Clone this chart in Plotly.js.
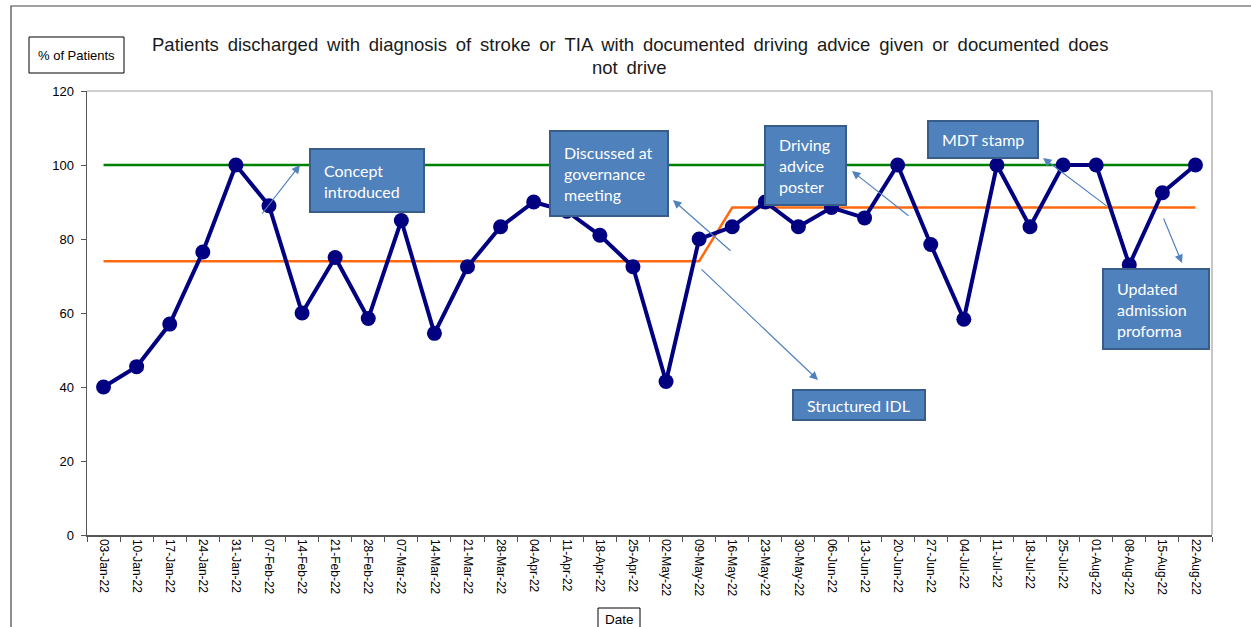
<!DOCTYPE html>
<html>
<head>
<meta charset="utf-8">
<script src="https://cdn.plot.ly/plotly-3.0.1.min.js"></script>
<style>html,body{margin:0;padding:0;background:#fff;}#chart{width:1251px;height:627px;}</style>
</head>
<body>
<div id="chart"></div>
<script>
// ---- data ----
var weeks = ["03-Jan-22","10-Jan-22","17-Jan-22","24-Jan-22","31-Jan-22","07-Feb-22","14-Feb-22","21-Feb-22","28-Feb-22",
  "07-Mar-22","14-Mar-22","21-Mar-22","28-Mar-22","04-Apr-22","11-Apr-22","18-Apr-22","25-Apr-22","02-May-22",
  "09-May-22","16-May-22","23-May-22","30-May-22","06-Jun-22","13-Jun-22","20-Jun-22","27-Jun-22","04-Jul-22",
  "11-Jul-22","18-Jul-22","25-Jul-22","01-Aug-22","08-Aug-22","15-Aug-22","22-Aug-22"];
var pctPatients = [40,45.5,57,76.5,100,89,60,75,58.5,85,54.5,72.5,83.3,90,87.5,81,72.5,41.5,
  80,83.3,90,83.3,88.5,85.7,100,78.5,58.3,100,83.3,100,100,73,92.5,100];
var target = [100,100,100,100,100,100,100,100,100,100,100,100,100,100,100,100,100,100,
  100,100,100,100,100,100,100,100,100,100,100,100,100,100,100,100];
var median = [74,74,74,74,74,74,74,74,74,74,74,74,74,74,74,74,74,74,
  74,88.5,88.5,88.5,88.5,88.5,88.5,88.5,88.5,88.5,88.5,88.5,88.5,88.5,88.5,88.5];
var yTicks = [0,20,40,60,80,100,120];
var titleLine1 = "Patients discharged with diagnosis of stroke or TIA with documented driving advice given or documented does";
var titleLine2 = "not drive";

// ---- layout helpers (pixel -> paper) ----
var L = 87, R = 1212, T = 91, B = 535;
function px(x){ return (x - L) / (R - L); }
function py(y){ return (B - y) / (B - T); }
function wide(s){ return s.split(" ").join(" \u2009"); }

var boxFill = "#4f81bd", boxLine = "#385d8a", arrowCol = "#4f81bd";
var boxFont = {family: "Lato, 'Open Sans', sans-serif", size: 16, color: "#ffffff"};
var axisFont = "'Liberation Sans', Arial, sans-serif";

var boxes = [
  {x0:310, y0:149, x1:424, y1:212, text:"Concept<br>introduced"},
  {x0:550, y0:131, x1:668, y1:216, text:"Discussed at<br>governance<br>meeting"},
  {x0:793, y0:390, x1:925, y1:420, text:"Structured IDL"},
  {x0:765, y0:126, x1:846, y1:205, text:"Driving<br>advice<br>poster"},
  {x0:928, y0:121, x1:1038, y1:158, text:"MDT stamp"},
  {x0:1103, y0:269, x1:1209, y1:349, text:"Updated<br>admission<br>proforma"}
];
var arrows = [
  {hx:300, hy:165, tx:261, ty:215},
  {hx:673, hy:200, tx:732, ty:252},
  {hx:818, hy:380, tx:700, ty:268},
  {hx:852, hy:171, tx:910, ty:217},
  {hx:1043, hy:158, tx:1108, ty:207},
  {hx:1182, hy:263, tx:1163, ty:217}
];

var shapes = [
  {type:"rect", xref:"paper", yref:"paper", x0:px(11), x1:px(1300), y0:py(6), y1:py(700), line:{color:"#444", width:1.2}},
  {type:"line", xref:"paper", yref:"paper", x0:0, x1:1, y0:1, y1:1, line:{color:"#a0a0a0", width:1.2}},
  {type:"line", xref:"paper", yref:"paper", x0:1, x1:1, y0:0, y1:1, line:{color:"#a0a0a0", width:1.2}},
  {type:"rect", xref:"paper", yref:"paper", x0:px(29), x1:px(124), y0:py(37), y1:py(73), line:{color:"#000", width:1}, fillcolor:"#fff"},
  {type:"rect", xref:"paper", yref:"paper", x0:px(598), x1:px(640), y0:py(608), y1:py(660), line:{color:"#000", width:1}, fillcolor:"#fff"}
];
var annotations = [
  {xref:"paper", yref:"paper", x:px(76.5), y:py(55.5), text:"% of Patients", showarrow:false, xanchor:"center", yanchor:"middle",
   font:{family:axisFont, size:13, color:"#000"}},
  {xref:"paper", yref:"paper", x:px(619), y:py(619.5), text:"Date", showarrow:false, xanchor:"center", yanchor:"middle",
   font:{family:axisFont, size:13.5, color:"#000"}},
  {xref:"paper", yref:"paper", x:px(630), y:py(44), text:wide(titleLine1), showarrow:false, xanchor:"center", yanchor:"middle",
   font:{family:axisFont, size:18.5, color:"#1a1a1a"}},
  {xref:"paper", yref:"paper", x:px(629), y:py(68), text:wide(titleLine2), showarrow:false, xanchor:"center", yanchor:"middle",
   font:{family:axisFont, size:18.5, color:"#1a1a1a"}}
];
arrows.forEach(function(a){
  annotations.push({xref:"paper", yref:"paper", x:px(a.hx), y:py(a.hy), ax:a.tx - a.hx, ay:a.ty - a.hy,
    axref:"pixel", ayref:"pixel", text:"", showarrow:true, arrowhead:2, arrowsize:1.4, arrowwidth:1.2,
    arrowcolor:arrowCol, standoff:0, startstandoff:0});
});
boxes.forEach(function(b){
  shapes.push({type:"rect", xref:"paper", yref:"paper", x0:px(b.x0), x1:px(b.x1), y0:py(b.y0), y1:py(b.y1),
    fillcolor:boxFill, line:{color:boxLine, width:2}, layer:"above"});
  annotations.push({xref:"paper", yref:"paper", x:px(b.x0 + 12), y:py((b.y0 + b.y1) / 2), text:b.text,
    showarrow:false, xanchor:"left", yanchor:"middle", align:"left", font:boxFont});
});

var traces = [
  {x: weeks, y: target, type:"scatter", mode:"lines", line:{color:"#008000", width:2.5}, hoverinfo:"skip"},
  {x: weeks, y: median, type:"scatter", mode:"lines", line:{color:"#ff6a10", width:2.5}, hoverinfo:"skip"},
  {x: weeks, y: pctPatients, type:"scatter", mode:"lines+markers", line:{color:"#000080", width:4},
   marker:{color:"#000080", size:15}, hoverinfo:"skip"}
];

var layout = {
  width:1251, height:627,
  margin:{l:L, r:1251 - R, t:T, b:627 - B},
  paper_bgcolor:"#fff", plot_bgcolor:"#fff",
  showlegend:false,
  xaxis:{type:"category", range:[-0.5, weeks.length - 0.5], showgrid:false, zeroline:false,
    showline:true, linecolor:"#555", linewidth:1.5, ticks:"outside", tickson:"boundaries", ticklen:5,
    tickcolor:"#555", tickangle:90, tickfont:{family:axisFont, size:12, color:"#000"}},
  yaxis:{range:[0,120], tickvals:yTicks, showgrid:false, zeroline:false, showline:true, linecolor:"#555",
    linewidth:1.5, ticks:"outside", ticklen:5, tickcolor:"#555", ticklabelstandoff:4,
    tickfont:{family:axisFont, size:13, color:"#000"}},
  shapes:shapes,
  annotations:annotations
};
Plotly.newPlot("chart", traces, layout, {staticPlot:true, displayModeBar:false});
</script>
</body>
</html>
